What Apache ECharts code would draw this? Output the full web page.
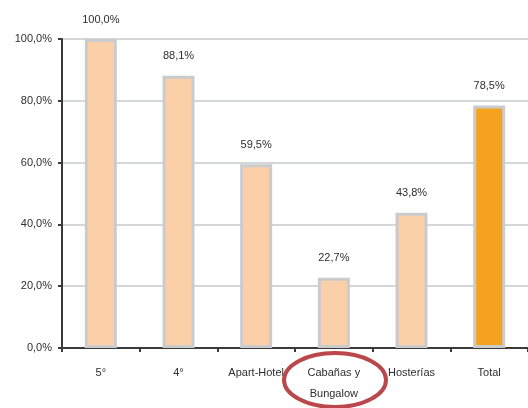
<!DOCTYPE html>
<html>
<head>
<meta charset="utf-8">
<script src="https://cdn.jsdelivr.net/npm/echarts@6/dist/echarts.min.js"></script>
<style>
  html, body { margin: 0; padding: 0; background: #fff; }
  #chart { width: 528px; height: 408px; }
</style>
</head>
<body>
<div id="chart"></div>
<script>
// Occupancy share by establishment type
const categories = ['5°', '4°', 'Apart-Hotel', 'Cabañas y\nBungalow', 'Hosterías', 'Total'];
const values = [100.0, 88.1, 59.5, 22.7, 43.8, 78.5];
const yTicks = [0, 20, 40, 60, 80, 100];

const peach = '#FBCFA7';
const orange = '#F5A31F';
const edge = '#C9CBCD';

const fmt = v => v.toFixed(1).replace('.', ',') + '%';

const chart = echarts.init(document.getElementById('chart'), null, { renderer: 'canvas' });

chart.setOption({
  animation: false,
  backgroundColor: '#ffffff',
  textStyle: { fontFamily: 'Liberation Sans, Arial, sans-serif' },
  grid: { left: 62, top: 39, width: 474, height: 309, containLabel: false },
  xAxis: {
    type: 'category',
    data: categories,
    axisLine: { lineStyle: { color: '#3a3a3a', width: 2 } },
    axisTick: { show: true, length: 4, lineStyle: { color: '#3a3a3a', width: 2 } },
    axisLabel: { color: '#2e2e2e', fontSize: 11, margin: 14, lineHeight: 21, interval: 0 }
  },
  yAxis: {
    type: 'value',
    min: yTicks[0],
    max: yTicks[yTicks.length - 1],
    interval: 20,
    axisLine: { show: true, lineStyle: { color: '#3a3a3a', width: 2 } },
    axisTick: { show: true, length: 4, lineStyle: { color: '#3a3a3a', width: 2 } },
    axisLabel: { color: '#2e2e2e', fontSize: 11, margin: 10, formatter: v => fmt(v) },
    splitLine: { lineStyle: { color: '#D4D7DA', width: 2 } }
  },
  series: [{
    type: 'bar',
    barWidth: 32,
    data: values.map((v, i) => ({
      value: v,
      itemStyle: { color: i === values.length - 1 ? orange : peach }
    })),
    itemStyle: { borderColor: edge, borderWidth: 3 },
    label: {
      show: true,
      position: 'top',
      distance: 14,
      color: '#2e2e2e',
      fontSize: 11,
      formatter: p => fmt(p.value)
    }
  }],
  graphic: [{
    type: 'ellipse',
    shape: { cx: 335, cy: 380, rx: 51, ry: 27 },
    style: { fill: 'none', stroke: '#B9474B', lineWidth: 4 },
    z: 100
  }]
});
</script>
</body>
</html>
